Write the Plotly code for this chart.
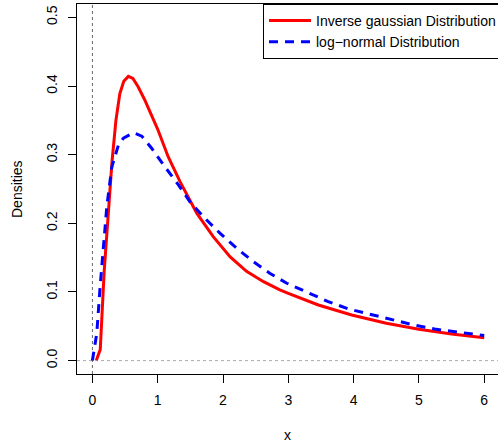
import plotly.graph_objects as go

# ---- data ----
ig_x = [0.06, 0.12, 0.18, 0.24, 0.30, 0.36, 0.42, 0.48, 0.55, 0.62, 0.70, 0.80,
        0.91, 1.00, 1.16, 1.34, 1.60, 1.85, 2.11, 2.36, 2.62, 2.87, 3.00, 3.46,
        3.97, 4.50, 5.00, 5.50, 6.00]
ig_y = [0.0005, 0.016, 0.130, 0.215, 0.290, 0.350, 0.389, 0.407, 0.414, 0.411,
        0.399, 0.380, 0.355, 0.337, 0.297, 0.261, 0.2145, 0.1805, 0.151, 0.130,
        0.115, 0.103, 0.098, 0.081, 0.0665, 0.0544, 0.0457, 0.0389, 0.0333]

ln_x = [0.0, 0.067, 0.118, 0.169, 0.22, 0.297, 0.398, 0.475, 0.628, 0.756, 0.91,
        1.113, 1.317, 1.496, 1.726, 1.956, 2.211, 2.466, 2.721, 2.977, 3.31, 3.61,
        3.92, 4.25, 4.58, 4.92, 5.24, 5.55, 5.89, 6.0]
ln_y = [0.0, 0.040, 0.108, 0.166, 0.224, 0.282, 0.314, 0.324, 0.332, 0.327, 0.309,
        0.282, 0.256, 0.231, 0.207, 0.1854, 0.1636, 0.144, 0.127, 0.1127, 0.099,
        0.086, 0.0753, 0.0675, 0.059, 0.052, 0.046, 0.0418, 0.0379, 0.0365]

x_ticks = [0, 1, 2, 3, 4, 5, 6]
y_ticks = [0.0, 0.1, 0.2, 0.3, 0.4, 0.5]
y_ticktext = ["0.0", "0.1", "0.2", "0.3", "0.4", "0.5"]

series_names = ["Inverse gaussian Distribution", "log\u2212normal Distribution"]

FONT = "Liberation Sans, Arial, Helvetica, sans-serif"

fig = go.Figure()
fig.add_trace(go.Scatter(x=ig_x, y=ig_y, mode="lines", name=series_names[0],
                         line=dict(color="#ff0000", width=3)))
fig.add_trace(go.Scatter(x=ln_x, y=ln_y, mode="lines", name=series_names[1],
                         line=dict(color="#0000ff", width=3, dash="9px,7px")))

# dotted reference lines at x=0 and y=0
fig.add_vline(x=0, line=dict(color="#666666", width=1, dash="dot"), layer="below")
fig.add_hline(y=0, line=dict(color="#aaaaaa", width=1, dash="dot"), layer="below")

fig.update_layout(
    width=498, height=444,
    margin=dict(l=77, r=0, t=4, b=70, autoexpand=False),
    paper_bgcolor="white", plot_bgcolor="white",
    font=dict(family=FONT, size=14, color="black"),
    showlegend=True,
    legend=dict(x=(263 - 77) / 421, y=1, xanchor="left", yanchor="top",
                bordercolor="black", borderwidth=1, bgcolor="white",
                itemwidth=42,
                font=dict(family=FONT, size=14, color="black")),
    xaxis=dict(range=[-0.236, 6.211], tickvals=x_ticks, ticks="outside", ticklen=8,
               tickcolor="black", showline=True, linecolor="black", linewidth=1,
               mirror=True, showgrid=False, zeroline=False, ticklabelstandoff=5,
               tickfont=dict(size=14)),
    yaxis=dict(range=[-0.0195, 0.5195], tickvals=y_ticks, ticktext=y_ticktext,
               tickangle=-90, ticks="outside", ticklen=8, tickcolor="black",
               showline=True, linecolor="black", linewidth=1, showgrid=False,
               zeroline=False, ticklabelstandoff=5, tickfont=dict(size=14)),
    annotations=[
        dict(text="x", xref="paper", yref="paper", x=0.5, y=0, yshift=-61,
             showarrow=False, xanchor="center", yanchor="middle",
             font=dict(size=14)),
        dict(text="Densities", xref="paper", yref="paper", x=0, y=0.5, xshift=-60,
             showarrow=False, xanchor="center", yanchor="middle", textangle=-90,
             font=dict(size=14)),
    ],
)

fig.write_html("out.html")
